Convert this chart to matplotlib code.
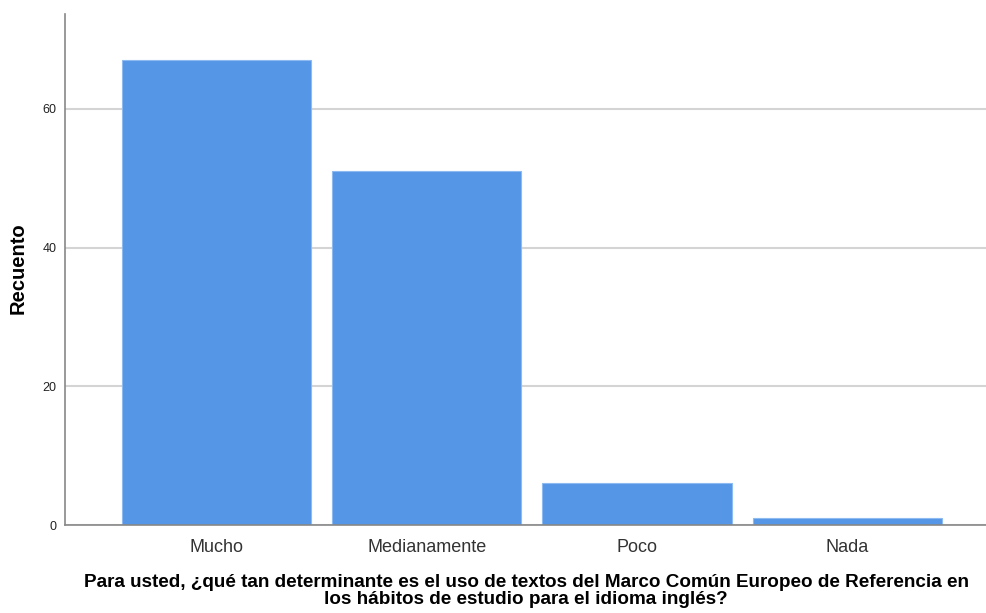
import matplotlib
matplotlib.use("Agg")
import matplotlib.pyplot as plt

categorias = ["Mucho", "Medianamente", "Poco", "Nada"]
recuento = [67, 51, 6, 1]
y_ticks = [0, 20, 40, 60]

plt.rcParams["font.family"] = ["Liberation Sans", "DejaVu Sans"]

fig = plt.figure(figsize=(9.87, 6.13), dpi=100)
ax = fig.add_axes([65 / 987, 88 / 613, 921 / 987, 511 / 613])

xs = list(range(len(categorias)))
ax.bar(xs, recuento, width=0.9, color="#5596e6", edgecolor="#8dbaf0",
       linewidth=0.8, zorder=3)

ax.set_xlim(-0.72, 3.66)
ax.set_ylim(0, 73.7)
ax.set_yticks(y_ticks)
ax.set_yticklabels([str(v) for v in y_ticks], fontsize=9, color="#222222")
ax.set_xticks(xs)
ax.set_xticklabels(categorias, fontsize=13, color="#333333")
ax.tick_params(axis="both", length=0)
ax.tick_params(axis="x", pad=10)
ax.tick_params(axis="y", pad=6)

ax.grid(axis="y", color="#d4d4d4", linewidth=1.5, zorder=0)
for s in ["top", "right"]:
    ax.spines[s].set_visible(False)
for s in ["left", "bottom"]:
    ax.spines[s].set_color("#888888")
    ax.spines[s].set_linewidth(1.2)
    ax.spines[s].set_zorder(4)

fig.text(18 / 987, 1 - 268 / 613, "Recuento", rotation=90,
         ha="center", va="center", fontsize=14.5, fontweight="bold")
fig.text(526 / 987, 1 - 591 / 613,
         "Para usted, ¿qué tan determinante es el uso de textos del Marco Común Europeo de Referencia en\n"
         "los hábitos de estudio para el idioma inglés?",
         ha="center", va="center", fontsize=13.6, fontweight="bold",
         linespacing=0.98)

fig.savefig("out.png", dpi=100)
